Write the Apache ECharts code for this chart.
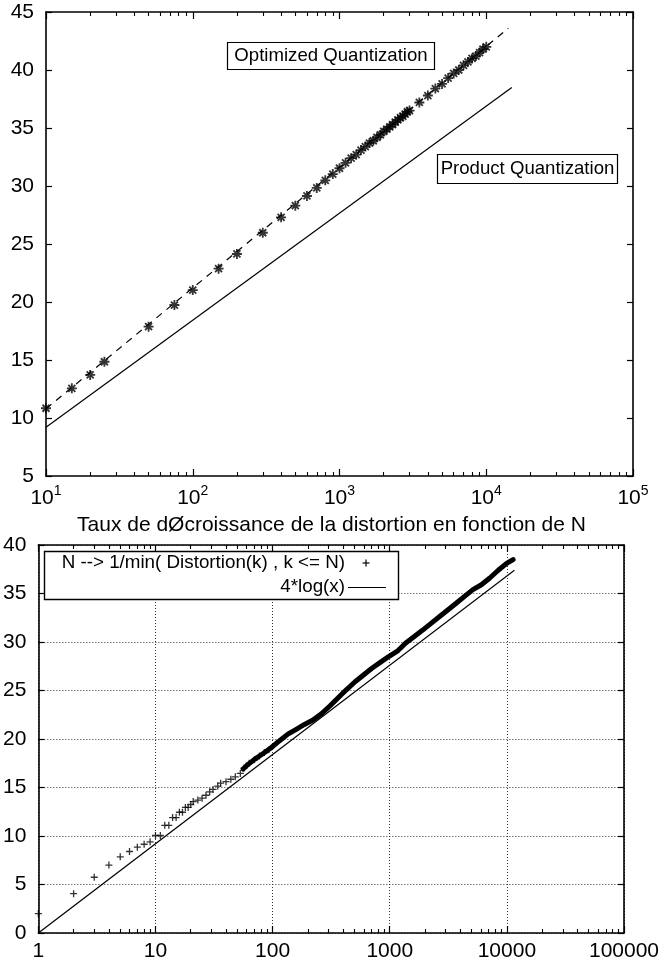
<!DOCTYPE html>
<html>
<head>
<meta charset="utf-8">
<script src="https://cdn.jsdelivr.net/npm/echarts@6/dist/echarts.min.js"></script>
<style>
    html, body { margin: 0; padding: 0; background: #fff; }
    #chart { width: 663px; height: 967px; }
</style>
</head>
<body>
<div id="chart"></div>
<script>
// ---- top chart : optimized vs product quantization ----
const optN = [10, 15, 20, 25, 50, 75, 100, 150, 200, 300, 400, 500, 600, 700, 800, 900,
    1000, 1100, 1200, 1300, 1400, 1500, 1600, 1700, 1800, 1900, 2000, 2100, 2200, 2300, 2400,
    2500, 2600, 2700, 2800, 2900, 3000, 3500, 4000, 4500, 5000, 5500, 6000, 6500, 7000, 7500,
    8000, 8500, 9000, 9500, 10000]
const optV = [10.84, 12.56, 13.71, 14.85, 17.87, 19.74, 21.03, 22.87, 24.14, 25.97, 27.3, 28.3, 29.14, 29.83, 30.49, 31.03,
    31.53, 32.0, 32.4, 32.7, 33.1, 33.4, 33.7, 33.9, 34.2, 34.4, 34.7, 34.9, 35.1, 35.3, 35.5,
    35.7, 35.9, 36.0, 36.2, 36.4, 36.5, 37.2, 37.8, 38.4, 38.8, 39.3, 39.7, 40.0, 40.4, 40.7,
    41.0, 41.2, 41.5, 41.8, 42.0]
const optFitN = [10, 14150]
const optFitV = [10.8, 43.6]
const prodN = [10, 14930]
const prodV = [9.2, 38.5]
const topExponents = ['1', '2', '3', '4', '5']

// ---- bottom chart : 1/min distortion ----
const distN = [1, 2, 3, 4, 5, 6, 7, 8, 9, 10, 11, 12, 13, 14, 15, 16, 17, 18, 19, 20, 21, 23, 25, 27, 29,
    31, 34, 36, 40, 44, 48, 53, 57, 63, 70, 77, 85, 93]
const distV = [2.0, 4.05, 5.75, 7.0, 7.85, 8.4, 8.85, 9.15, 9.4, 10.05, 10.05, 11.1, 11.1, 11.9, 11.9, 12.45,
    12.45, 12.95, 12.95, 13.25, 13.55, 13.7, 13.9, 14.2, 14.55, 14.8, 15.15, 15.45, 15.6, 15.85, 16.1,
    16.45, 17.0, 17.5, 17.85, 18.25, 18.6, 18.9]
const bandN = [56, 60, 70, 82, 97, 114, 135, 159, 187, 221, 261, 308, 363, 428, 506, 597, 704, 830, 980,
    1160, 1370, 1610, 1900, 2240, 2650, 3130, 3690, 4350, 5130, 6060, 7150, 8440, 9950, 11300]
const bandV = [16.9, 17.25, 17.9, 18.45, 19.1, 19.8, 20.5, 21.0, 21.5, 21.95, 22.6, 23.4, 24.25, 25.1, 25.9,
    26.6, 27.3, 27.9, 28.5, 29.05, 29.9, 30.55, 31.2, 31.9, 32.6, 33.3, 34.0, 34.7, 35.4, 35.9, 36.6, 37.4,
    38.1, 38.5]
const logN = [1, 11600]
const logV = [0, 37.4]
const bottomXLabels = ['1', '10', '100', '1000', '10000', '100000']

const FONT = '"Liberation Sans", Arial, sans-serif'
const INK = '#000'
const STAR = 'path://M5,0L5,10M0,5L10,5M1.5,1.5L8.5,8.5M1.5,8.5L8.5,1.5'
const PLUS = 'path://M5,0L5,10M0,5L10,5'

// minor ticks 2..9 in every decade
const minorTicks = (from, to) => {
    const out = []
    for (let d = from; d < to; d *= 10) {
        for (let m = 2; m <= 9; m++) out.push(d * m)
    }
    return out
}

const pairs = (xs, ys) => xs.map((x, i) => [x, ys[i]])

const axisLine = {show: true, onZero: false, lineStyle: {color: '#000', width: 1.6}}

const logX = (grid, pos, min, max, extra) => Object.assign({
    type: 'log', logBase: 10, gridIndex: grid, position: pos, min: min, max: max,
    axisLine: axisLine,
    axisLabel: {show: false},
    axisTick: {inside: true, length: 7, lineStyle: {color: '#000', width: 1.2}},
    splitLine: {show: false}
}, extra)

const minorX = (grid, pos, min, max) => logX(grid, pos, min, max, {
    axisLine: {show: false, onZero: false},
    axisTick: {inside: true, length: 4, customValues: minorTicks(min, max), lineStyle: {color: '#000', width: 1.1}}
})

const valY = (grid, pos, min, max, extra) => Object.assign({
    type: 'value', gridIndex: grid, position: pos, min: min, max: max, interval: 5,
    axisLine: axisLine,
    axisLabel: {show: false},
    axisTick: {inside: true, length: 6, lineStyle: {color: '#000', width: 1.2}},
    splitLine: {show: false}
}, extra)

const tickFont = {fontSize: 21, color: INK, fontFamily: FONT}

const chart = echarts.init(document.getElementById('chart'))

chart.setOption({
    animation: false,
    backgroundColor: '#fff',
    textStyle: {fontFamily: FONT, color: INK},
    title: {
        text: 'Taux de dØcroissance de la distortion en fonction de N',
        left: 'center',
        top: 510,
        textStyle: {fontFamily: FONT, fontSize: 21, fontWeight: 'normal', color: INK}
    },
    grid: [
        {left: 46, top: 12, width: 587, height: 464, show: false},
        {left: 37, top: 545, width: 587, height: 388, show: false}
    ],
    xAxis: [
        logX(0, 'bottom', 10, 100000, {
            axisLabel: {
                show: true, margin: 8,
                formatter: v => '{b|10}{s|' + topExponents[Math.round(Math.log10(v)) - 1] + '}',
                rich: {
                    b: {fontSize: 21, fontFamily: FONT, color: INK, lineHeight: 25, verticalAlign: 'bottom'},
                    s: {fontSize: 14, fontFamily: FONT, color: INK, lineHeight: 15, verticalAlign: 'top'}
                }
            }
        }),
        minorX(0, 'bottom', 10, 100000),
        logX(0, 'top', 10, 100000),
        minorX(0, 'top', 10, 100000),
        logX(1, 'bottom', 1, 100000, {
            axisLabel: Object.assign({show: true, margin: 8,
                formatter: v => bottomXLabels[Math.round(Math.log10(v))]}, tickFont),
            splitLine: {show: true, lineStyle: {color: '#333', width: 1, type: [1, 2]}}
        }),
        minorX(1, 'bottom', 1, 100000),
        logX(1, 'top', 1, 100000),
        minorX(1, 'top', 1, 100000)
    ],
    yAxis: [
        valY(0, 'left', 5, 45, {axisLabel: Object.assign({show: true, margin: 12}, tickFont)}),
        valY(0, 'right', 5, 45),
        valY(1, 'left', 0, 40, {
            axisLabel: Object.assign({show: true, margin: 12}, tickFont),
            splitLine: {show: true, lineStyle: {color: '#333', width: 1, type: [1, 2]}}
        }),
        valY(1, 'right', 0, 40)
    ],
    series: [
        {   // Product Quantization
            type: 'line', xAxisIndex: 0, yAxisIndex: 0, data: pairs(prodN, prodV),
            symbol: 'none', lineStyle: {color: '#000', width: 1.2}
        },
        {   // fit through the optimized points
            type: 'line', xAxisIndex: 0, yAxisIndex: 0, data: pairs(optFitN, optFitV),
            symbol: 'none', lineStyle: {color: '#000', width: 1.2, type: [7, 6]}
        },
        {   // Optimized Quantization
            type: 'scatter', xAxisIndex: 0, yAxisIndex: 0, data: pairs(optN, optV),
            symbol: STAR, symbolSize: 10,
            itemStyle: {color: '#000', borderColor: '#000', borderWidth: 1.8}
        },
        {   // N --> 1/min(...) sparse part
            type: 'scatter', xAxisIndex: 4, yAxisIndex: 2, data: pairs(distN, distV),
            symbol: PLUS, symbolSize: 7, clip: false,
            itemStyle: {color: '#000', borderColor: '#000', borderWidth: 1.3}
        },
        {   // N --> 1/min(...) dense part
            type: 'line', xAxisIndex: 4, yAxisIndex: 2, data: pairs(bandN, bandV),
            symbol: 'none', lineStyle: {color: '#000', width: 5, cap: 'round', join: 'round'}
        },
        {   // 4*log(x)
            type: 'line', xAxisIndex: 4, yAxisIndex: 2, data: pairs(logN, logV),
            symbol: 'none', lineStyle: {color: '#000', width: 1.2}
        }
    ],
    graphic: [
        {type: 'rect', z: 100, shape: {x: 227.5, y: 42.5, width: 207, height: 27}, style: {fill: '#fff', stroke: '#000', lineWidth: 1.2}},
        {type: 'text', z: 101, x: 331, y: 56, style: {text: 'Optimized Quantization', font: '18.6px ' + FONT, fill: INK, align: 'center', verticalAlign: 'middle'}},
        {type: 'rect', z: 100, shape: {x: 437.5, y: 154.5, width: 180, height: 29}, style: {fill: '#fff', stroke: '#000', lineWidth: 1.2}},
        {type: 'text', z: 101, x: 527.5, y: 169, style: {text: 'Product Quantization', font: '18.6px ' + FONT, fill: INK, align: 'center', verticalAlign: 'middle'}},
        // legend of the bottom chart
        {type: 'rect', z: 100, shape: {x: 44.5, y: 551.5, width: 354, height: 48}, style: {fill: '#fff', stroke: '#000', lineWidth: 1.4}},
        {type: 'text', z: 101, x: 345, y: 563, style: {text: 'N --> 1/min( Distortion(k) , k <= N)', font: '18.8px ' + FONT, fill: INK, align: 'right', verticalAlign: 'middle'}},
        {type: 'text', z: 101, x: 345, y: 587, style: {text: '4*log(x)', font: '18.8px ' + FONT, fill: INK, align: 'right', verticalAlign: 'middle'}},
        {type: 'line', z: 101, shape: {x1: 362.5, y1: 563, x2: 369.5, y2: 563}, style: {stroke: '#000', lineWidth: 1.2}},
        {type: 'line', z: 101, shape: {x1: 366, y1: 559.5, x2: 366, y2: 566.5}, style: {stroke: '#000', lineWidth: 1.2}},
        {type: 'line', z: 101, shape: {x1: 348, y1: 587.5, x2: 386, y2: 587.5}, style: {stroke: '#000', lineWidth: 1.2}}
    ]
})
</script>
</body>
</html>
